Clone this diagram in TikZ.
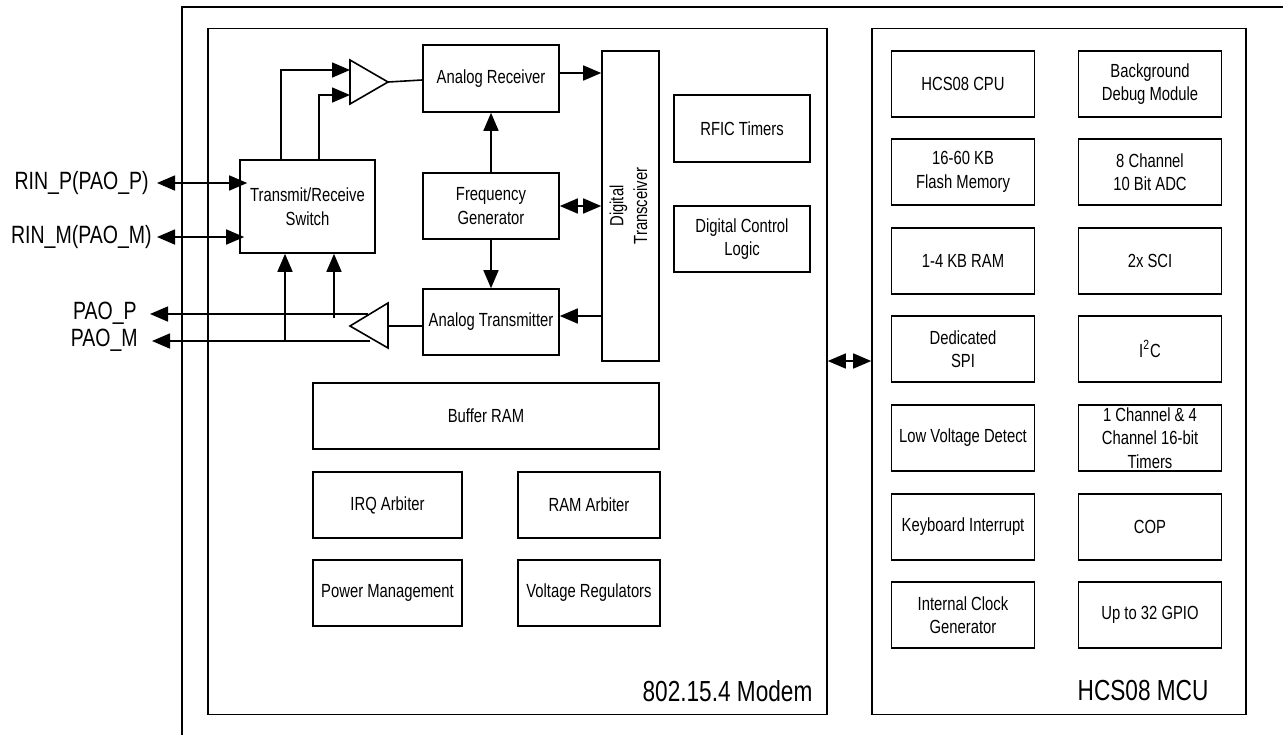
\documentclass[tikz,border=0pt]{standalone}
\usepackage{fontspec}
\setmainfont[FakeStretch=0.78]{Liberation Sans}
\usepackage{tikz}
\usetikzlibrary{arrows.meta}
\tikzstyle{blk}=[draw, line width=.8pt, align=center, inner sep=1pt,
                 font=\fontsize{9.5}{11.8}\selectfont]
\tikzstyle{mcublk}=[blk, minimum width=71.5pt, minimum height=33pt]
\tikzstyle{pin}=[anchor=east, inner sep=0pt, font=\fontsize{12.5}{14}\selectfont]
\tikzstyle{big}=[anchor=east, inner sep=0pt, font=\fontsize{14.5}{16}\selectfont]
\tikzstyle{arr}=[line width=.8pt, -{Triangle[length=9pt, width=7.5pt]}]
\tikzstyle{biarr}=[line width=.8pt, {Triangle[length=9pt, width=7.5pt]}-{Triangle[length=9pt, width=7.5pt]}]

\begin{document}
\begin{tikzpicture}[x=.5pt, y=-.5pt]
    \useasboundingbox (0,0) rectangle (1283,735);
    \draw[line width=.8pt] (182,735) -- (182,7) -- (1283,7);
    % the two big blocks
    \node[draw, line width=.8pt, minimum width=309.5pt, minimum height=343pt] (modem) at (517.5,371.5) {};
    \node[draw, line width=.8pt, minimum width=187pt, minimum height=343pt] (mcu) at (1059,371.5) {};
    \node[big] (modemtxt) at ([xshift=-7.5pt, yshift=12pt]modem.south east) {802.15.4 Modem};
    \node[big] (mcutxt) at ([xshift=-19pt, yshift=12.5pt]mcu.south east) {HCS08 MCU};
    \draw[biarr] ([yshift=5.25pt]modem.east) -- ([yshift=5.25pt]mcu.west);

    % radio part
    \node[blk, minimum width=67.5pt, minimum height=46.5pt] (sw) at (307.5,206.5) {Transmit/Receive\\Switch};
    \node[blk, minimum width=68pt, minimum height=33.5pt] (ar) at (491,78.5) {Analog Receiver};
    \node[blk, minimum width=68pt, minimum height=33pt] (fg) at (491,206) {Frequency\\Generator};
    \node[blk, minimum width=68pt, minimum height=33pt] (at) at (491,322) {Analog Transmitter};
    \node[blk, minimum width=28.5pt, minimum height=155pt] (dt) at (630.5,206)
      {\rotatebox{90}{\begin{tabular}{@{}c@{}}Digital\\Transceiver\end{tabular}}};
    \node[blk, minimum width=68pt, minimum height=33.5pt] (rfic) at (742,128.5) {RFIC Timers};
    \node[blk, minimum width=68pt, minimum height=33pt] (dcl) at (742,239) {Digital Control\\Logic};

    % amplifiers
    \coordinate (rxin1) at (350,70);
    \coordinate (rxin2) at (350,95);
    \coordinate (rxout) at (388,82);
    \draw[line width=.8pt] (350,60) -- (rxout) -- (350,104) -- cycle;
    \coordinate (txin) at (388,326);
    \draw[line width=.8pt] (388,303) -- (350,326) -- (388,348) -- cycle;
    \coordinate (pap) at (368,314);
    \coordinate (pam) at (370,341);

    % pins
    \node[pin] (rinp) at (149,183) {RIN\_P(PAO\_P)};
    \node[pin] (rinm) at (152,237) {RIN\_M(PAO\_M)};
    \node[pin] (paop) at (137,313) {PAO\_P};
    \node[pin] (paom) at (138,340) {PAO\_M};
    \draw[biarr] ([xshift=4pt]rinp.east) -- ([xshift=4pt]rinp.east -| sw.west);
    \draw[biarr] ([xshift=2.5pt]rinm.east) -- ([xshift=2.5pt]rinm.east -| sw.west);
    \draw[arr] (pap) -- ([xshift=6.5pt]pap -| paop.east);
    \draw[arr] (pam) -- ([xshift=7pt]pam -| paom.east);
    \draw[arr] (pam -| 285,0) -- (285,0 |- sw.south);
    \draw[arr] (334,318) -- (334,0 |- sw.south);

    \draw[arr] ([xshift=21pt]sw.north west) |- (rxin1);
    \draw[arr] ([xshift=40pt]sw.north west) |- (rxin2);
    \draw[line width=.8pt] (rxout) -- ([yshift=-.75pt]ar.west);
    \draw[arr] ([yshift=2.75pt]ar.east) -- ([yshift=2.75pt]ar.east -| dt.west);
    \draw[biarr] (fg.east) -- (fg.east -| dt.west);
    \draw[arr] ([yshift=3pt]at.east -| dt.west) -- ([yshift=3pt]at.east);
    \draw[line width=.8pt] (txin -| at.west) -- (txin);
    \foreach \from/\to in {fg/ar, fg/at}
      \draw[arr] (\from) -- (\to);

    % lower modem blocks
    \node[blk, minimum width=173pt, minimum height=33pt] (bram) at (486,416) {Buffer RAM};
    \node[blk, minimum width=74.5pt, minimum height=33pt] (irq) at (387.5,505) {IRQ Arbiter};
    \node[blk, minimum width=71pt, minimum height=33pt] (rama) at (589,505) {RAM Arbiter};
    \node[blk, minimum width=74.5pt, minimum height=33pt] (pwr) at (387.5,593) {Power Management};
    \node[blk, minimum width=71pt, minimum height=33pt] (vreg) at (589,593) {Voltage Regulators};

    % MCU blocks
    \node[mcublk] (cpu) at (963,84) {HCS08 CPU};
    \node[mcublk] (flash) at (963,172) {16-60 KB\\Flash Memory};
    \node[mcublk] (ram) at (963,261) {1-4 KB RAM};
    \node[mcublk] (spi) at (963,349) {Dedicated\\SPI};
    \node[mcublk] (lvd) at (963,438) {Low Voltage Detect};
    \node[mcublk] (kbi) at (963,527) {Keyboard Interrupt};
    \node[mcublk] (icg) at (963,615) {Internal Clock\\Generator};
    \node[mcublk] (bdm) at (1150,84) {Background\\Debug Module};
    \node[mcublk] (adc) at (1150,172) {8 Channel\\10 Bit ADC};
    \node[mcublk] (sci) at (1150,261) {2x SCI};
    \node[mcublk] (iic) at (1150,349) {I\textsuperscript{2}C};
    \node[mcublk] (tpm) at (1150,438) {1 Channel \& 4\\Channel 16-bit\\Timers};
    \node[mcublk] (cop) at (1150,527) {COP};
    \node[mcublk] (gpio) at (1150,615) {Up to 32 GPIO};
\end{tikzpicture}
\end{document}
